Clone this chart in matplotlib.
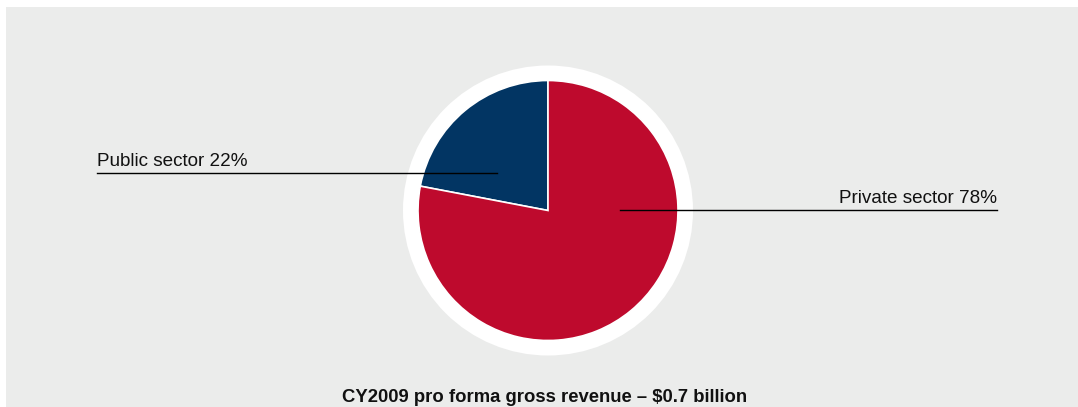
import matplotlib.pyplot as plt
from matplotlib.patches import Circle, Rectangle

# Revenue split by sector (percent)
sectors = ['Public sector', 'Private sector']
shares = [22, 78]
colors = ['#023563', '#be0a2d']
title = 'CY2009 pro forma gross revenue \u2013 $0.7 billion'

plt.rcParams['font.family'] = ['Liberation Sans', 'DejaVu Sans']

W, H = 1078, 407
fig = plt.figure(figsize=(W / 100, H / 100), dpi=100, facecolor='white')
ax = fig.add_axes([0, 0, 1, 1])

# grey panel behind the chart
ax.add_patch(Rectangle((6, 0), W - 6, H - 7, facecolor='#ebeceb', edgecolor='none', zorder=0))

cx, cy, r = 548, 196.5, 130
# white ring around the pie
ax.add_patch(Circle((cx, cy), 145, facecolor='white', edgecolor='none', zorder=1))
wedges, _ = ax.pie(shares, colors=colors, startangle=90, counterclock=True,
                   center=(cx, cy), radius=r, frame=True,
                   wedgeprops=dict(edgecolor='white', linewidth=1.2, zorder=2))
ax.set_xlim(0, W)
ax.set_ylim(0, H)
ax.axis('off')

# leader lines and labels
ax.plot([97, 497], [234, 234], color='black', lw=1.0, zorder=3)
ax.text(97, 241, f'{sectors[0]} {shares[0]}%', fontsize=13.6, ha='left', va='baseline', color='#111111')
ax.plot([620, 997], [197, 197], color='black', lw=1.0, zorder=3)
ax.text(997, 204, f'{sectors[1]} {shares[1]}%', fontsize=13.6, ha='right', va='baseline', color='#111111')

ax.text(544.5, 5, title, fontsize=13.3, fontweight='bold', ha='center', va='baseline', color='#111111')

fig.savefig('out.png', dpi=100, facecolor='white')
